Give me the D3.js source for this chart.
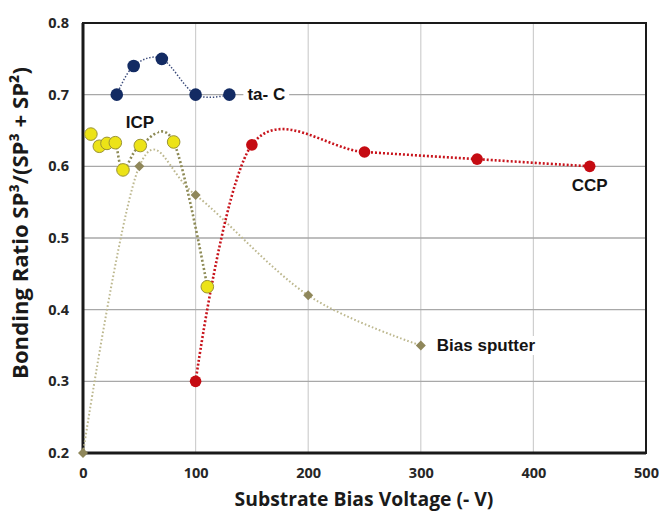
<!DOCTYPE html>
<html>
<head>
<meta charset="utf-8">
<script src="https://cdn.jsdelivr.net/npm/d3@7"></script>
<style>
  html, body { margin: 0; padding: 0; background: #fff; }
  svg { display: block; }
</style>
</head>
<body>
<svg id="chart" width="659" height="514"></svg>
<script>
// Bonding ratio sp3/(sp3+sp2) against substrate bias voltage for four deposition methods
const xTicks = [0, 100, 200, 300, 400, 500];
const yTicks = [0.2, 0.3, 0.4, 0.5, 0.6, 0.7, 0.8];

const tacBias  = [30, 45, 70, 100, 130];
const tacRatio = [0.70, 0.74, 0.75, 0.70, 0.70];

const icpBias  = [7, 14.5, 21.3, 28.7, 35.5, 50.9, 80.5, 110.4];
const icpRatio = [0.645, 0.628, 0.632, 0.633, 0.595, 0.629, 0.634, 0.432];

const ccpBias  = [100, 150, 250, 350, 450];
const ccpRatio = [0.30, 0.63, 0.62, 0.61, 0.60];

const sputBias  = [0, 50, 100, 200, 300];
const sputRatio = [0.20, 0.60, 0.56, 0.42, 0.35];

const zip = (xs, ys) => xs.map((x, i) => ({ x, y: ys[i] }));

const svg = d3.select("#chart");
const margin = { left: 83, right: 13, top: 23, bottom: 61 };
const W = 659, H = 514;

const x = d3.scaleLinear().domain([0, 500]).range([margin.left, W - margin.right]);
const y = d3.scaleLinear().domain([0.2, 0.8]).range([H - margin.bottom, margin.top]);

const tickFont = "'Open Sans', 'Liberation Sans', sans-serif";

// grid
const grid = svg.append("g");
grid.selectAll("line.v").data(xTicks.slice(1, -1)).join("line")
  .attr("x1", d => x(d)).attr("x2", d => x(d))
  .attr("y1", y(0.8)).attr("y2", y(0.2))
  .attr("stroke", "#cfcfcf").attr("stroke-width", 1.2);
grid.selectAll("line.h").data(yTicks.slice(1, -1)).join("line")
  .attr("x1", x(0)).attr("x2", x(500))
  .attr("y1", d => y(d)).attr("y2", d => y(d))
  .attr("stroke", "#a8a8a8").attr("stroke-width", 1.3);

// axes with labels only
const xAxis = d3.axisBottom(x).tickValues(xTicks).tickSize(0).tickPadding(15).tickFormat(d3.format("d"));
const yAxis = d3.axisLeft(y).tickValues(yTicks).tickSize(0).tickPadding(14).tickFormat(d3.format(".1f"));

const gx = svg.append("g").attr("transform", `translate(0,${y(0.2)})`).call(xAxis);
const gy = svg.append("g").attr("transform", `translate(${x(0)},0)`).call(yAxis);
[gx, gy].forEach(g => {
  g.select(".domain").remove();
  g.selectAll("text").attr("font-family", tickFont).attr("font-weight", 700)
    .attr("font-size", 14.5).attr("fill", "#262626");
});

// frame
svg.append("rect")
  .attr("x", x(0)).attr("y", y(0.8))
  .attr("width", x(500) - x(0)).attr("height", y(0.2) - y(0.8))
  .attr("fill", "none").attr("stroke", "#1a1a1a").attr("stroke-width", 2);
svg.append("line").attr("x1", x(0)).attr("x2", x(0)).attr("y1", y(0.8)).attr("y2", y(0.2) + 1.5)
  .attr("stroke", "#1a1a1a").attr("stroke-width", 3);
svg.append("line").attr("x1", x(0)).attr("x2", x(500)).attr("y1", y(0.2)).attr("y2", y(0.2))
  .attr("stroke", "#1a1a1a").attr("stroke-width", 3);

const line = d3.line().x(d => x(d.x)).y(d => y(d.y)).curve(d3.curveCardinal.tension(0));

function series(data, color, width, dash) {
  svg.append("path").datum(data).attr("d", line)
    .attr("fill", "none").attr("stroke", color).attr("stroke-width", width)
    .attr("stroke-dasharray", dash);
}

const sput = zip(sputBias, sputRatio);
const icp = zip(icpBias, icpRatio);
const ccp = zip(ccpBias, ccpRatio);
const tac = zip(tacBias, tacRatio);

series(sput, "#bdb88f", 2, "1.6,2.2");
series(icp, "#8d8a55", 2.6, "2,2.2");
series(ccp, "#c8141c", 2.6, "2,2");
series(tac, "#3a4a7a", 1.5, "1.4,1.8");

// markers
svg.append("g").selectAll("path").data(sput).join("path")
  .attr("transform", d => `translate(${x(d.x)},${y(d.y)})`)
  .attr("d", "M0,-5L5,0L0,5L-5,0Z")
  .attr("fill", "#8f875a");

svg.append("g").selectAll("circle").data(icp).join("circle")
  .attr("cx", d => x(d.x)).attr("cy", d => y(d.y)).attr("r", 6.3)
  .attr("fill", "#ece317").attr("stroke", "#9a9335").attr("stroke-width", 1);

svg.append("g").selectAll("circle").data(ccp).join("circle")
  .attr("cx", d => x(d.x)).attr("cy", d => y(d.y)).attr("r", 5.8)
  .attr("fill", "#c50b12");

svg.append("g").selectAll("circle").data(tac).join("circle")
  .attr("cx", d => x(d.x)).attr("cy", d => y(d.y)).attr("r", 6.3)
  .attr("fill", "#132b63");

// series labels
const labelFont = "'Liberation Sans', Arial, sans-serif";
function label(text, px, py, anchor) {
  const t = svg.append("text").attr("x", px).attr("y", py)
    .attr("text-anchor", anchor || "start").attr("dominant-baseline", "central")
    .attr("font-family", labelFont).attr("font-weight", 700).attr("font-size", 17)
    .attr("fill", "#141414").text(text);
  const b = t.node().getBBox();
  svg.insert("rect", () => t.node())
    .attr("x", b.x - 4).attr("y", b.y).attr("width", b.width + 8).attr("height", b.height)
    .attr("fill", "#fff");
}
label("ta- C", x(130) + 18, y(0.70));
label("ICP", x(50.5), y(0.7) + 28, "middle");
label("CCP", x(450), y(0.6) + 19, "middle");
label("Bias sputter", x(300) + 16, y(0.35));

// axis titles, sized to span their intended length
const titleFont = "'Open Sans', 'Liberation Sans', sans-serif";
function fitTitle(t, target) {
  const len = t.node().getComputedTextLength();
  t.attr("font-size", 18 * target / len);
}
const xt = svg.append("text")
  .attr("x", (x(0) + x(500)) / 2 - 0.5).attr("y", 506)
  .attr("text-anchor", "middle")
  .attr("font-family", titleFont).attr("font-weight", 700).attr("font-size", 18)
  .attr("fill", "#1a1a1a").text("Substrate Bias Voltage (- V)");
fitTitle(xt, 259);

const yt = svg.append("text")
  .attr("transform", `translate(28,${(y(0.8) + y(0.2)) / 2 - 15}) rotate(-90)`)
  .attr("text-anchor", "middle")
  .attr("font-family", titleFont).attr("font-weight", 700).attr("font-size", 18)
  .attr("fill", "#1a1a1a").text("Bonding Ratio SP³/(SP³ + SP²)");
fitTitle(yt, 312);
</script>
</body>
</html>
